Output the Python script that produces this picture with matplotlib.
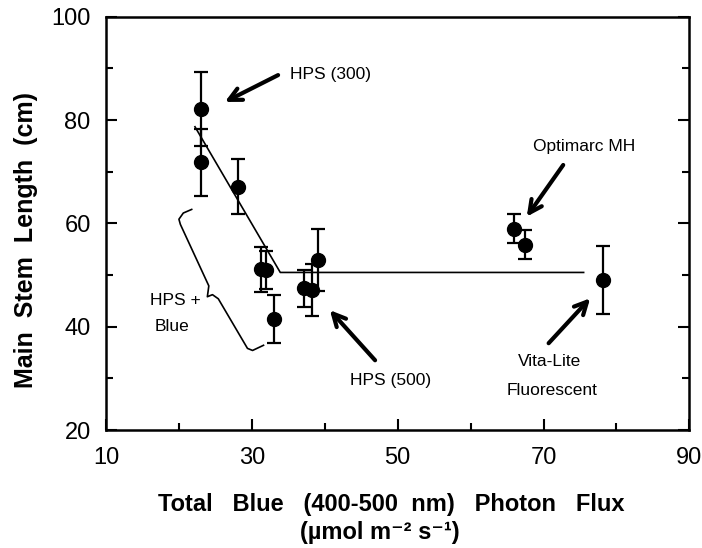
import matplotlib
matplotlib.use("Agg")
import matplotlib.pyplot as plt

# blue photon flux (umol m-2 s-1) and main stem length (cm)
blue_flux = [23.0, 23.0, 28.1, 31.3, 31.9, 33.1, 37.2, 38.2, 39.1, 65.9, 67.4, 78.1]
stem_len = [82.1, 71.8, 67.1, 51.1, 51.0, 41.5, 47.4, 47.1, 52.9, 59.0, 55.9, 49.0]
stem_err = [7.2, 6.5, 5.3, 4.4, 3.7, 4.7, 3.5, 5.0, 6.0, 2.8, 2.8, 6.6]

# segmented (broken-stick) fit
fit_x = [22.2, 33.9, 75.5]
fit_y = [78.7, 50.5, 50.5]

xticks = [10, 30, 50, 70, 90]
yticks = [20, 40, 60, 80, 100]

plt.rcParams['font.family'] = ['Liberation Sans', 'DejaVu Sans']

fig = plt.figure(figsize=(7.02, 5.48), dpi=100)
ax = fig.add_axes([0.151, 0.2153, 0.831, 0.7542])

ax.plot(fit_x, fit_y, color='black', lw=1.2, zorder=2)
ax.errorbar(blue_flux, stem_len, yerr=stem_err, fmt='o', color='black',
            ms=10, elinewidth=1.6, capsize=5, capthick=1.6, zorder=3)

ax.set_xlim(10, 90)
ax.set_ylim(20, 100)
ax.set_xticks(xticks)
ax.set_yticks(yticks)
ax.set_xticks([20, 40, 60, 80], minor=True)
ax.set_yticks([30, 50, 70, 90], minor=True)
ax.tick_params(which='both', direction='in', left=True, right=True, top=False,
               labelsize=17, width=1.5)
ax.tick_params(which='major', length=8)
ax.tick_params(which='minor', length=5)
ax.tick_params(axis='y', pad=11)
ax.tick_params(axis='x', pad=12)
for s in ax.spines.values():
    s.set_linewidth(1.8)

ax.set_ylabel('Main  Stem  Length  (cm)', fontsize=18, fontweight='bold')
ax.yaxis.set_label_coords(-0.117, 0.46)
fig.text(0.557, 0.068, 'Total   Blue   (400-500  nm)   Photon   Flux',
         ha='center', va='baseline', fontsize=17, fontweight='bold')
fig.text(0.541, 0.017, '(\u00b5mol m\u207b\u00b2 s\u207b\u00b9)',
         ha='center', va='baseline', fontsize=17, fontweight='bold')

arrow = dict(arrowstyle='->, head_length=0.9, head_width=0.45', lw=3, color='black',
             shrinkA=0, shrinkB=0)
ax.annotate('', xy=(26.3, 83.5), xytext=(33.6, 88.7), arrowprops=arrow)
ax.text(35.2, 88.8, 'HPS (300)', fontsize=12.5, ha='left', va='center')

ax.annotate('', xy=(40.7, 43.2), xytext=(46.9, 33.5), arrowprops=arrow)
ax.text(49.0, 29.5, 'HPS (500)', fontsize=12.5, ha='center', va='center')

ax.annotate('', xy=(67.7, 61.3), xytext=(72.7, 71.3), arrowprops=arrow)
ax.text(75.6, 74.9, 'Optimarc MH', fontsize=12.5, ha='center', va='center')

ax.annotate('', xy=(76.4, 45.5), xytext=(70.7, 36.8), arrowprops=arrow)
ax.text(70.8, 33.2, 'Vita-Lite', fontsize=12.5, ha='center', va='center')
ax.text(71.2, 27.7, 'Fluorescent', fontsize=12.5, ha='center', va='center')

# curly brace grouping the HPS + Blue treatments
brace_x = [21.75, 20.6, 20.0, 20.2, 24.1, 23.9, 24.6, 25.4, 29.4, 30.1, 31.6]
brace_y = [62.7, 62.0, 60.8, 59.8, 47.9, 45.8, 46.2, 45.4, 35.8, 35.4, 36.4]
ax.plot(brace_x, brace_y, color='black', lw=1.2)
ax.text(19.5, 45.0, 'HPS +', fontsize=12.5, ha='center', va='center')
ax.text(19.0, 40.0, 'Blue', fontsize=12.5, ha='center', va='center')

fig.savefig('out.png', dpi=100)
